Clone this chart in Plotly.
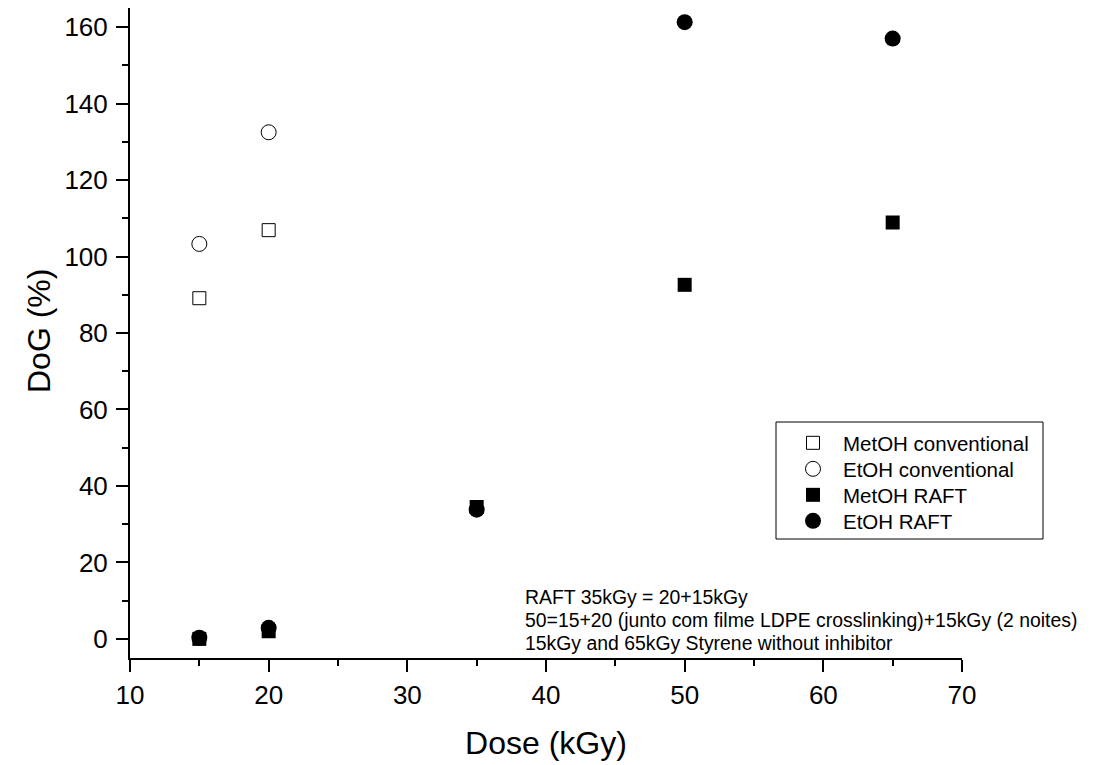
import plotly.graph_objects as go

# Data
metoh_conv_x = [15, 20]
metoh_conv_y = [89.1, 106.9]
etoh_conv_x = [15, 20]
etoh_conv_y = [103.3, 132.5]
metoh_raft_x = [15, 20, 35, 50, 65]
metoh_raft_y = [0.0, 2.0, 34.5, 92.6, 108.9]
etoh_raft_x = [15, 20, 35, 50, 65]
etoh_raft_y = [0.3, 2.9, 33.8, 161.3, 157.0]

series_names = ["MetOH conventional", "EtOH conventional", "MetOH RAFT", "EtOH RAFT"]

notes = [
    "RAFT 35kGy = 20+15kGy",
    "50=15+20 (junto com filme LDPE crosslinking)+15kGy (2 noites)",
    "15kGy and 65kGy Styrene without inhibitor",
]

FONT = "Liberation Sans, Arial, sans-serif"

# plot area in page pixels (page has an 8px body margin)
PL, PR, PT, PB = 130, 962, 8, 658
def px(x):
    return (x - PL) / (PR - PL)
def py(y):
    return (PB - y) / (PB - PT)

fig = go.Figure()
fig.add_trace(go.Scatter(x=metoh_conv_x, y=metoh_conv_y, mode="markers", name=series_names[0], legend="legend",
                         marker=dict(symbol="square-open", size=13, color="black", line=dict(width=1))))
fig.add_trace(go.Scatter(x=etoh_conv_x, y=etoh_conv_y, mode="markers", name=series_names[1], legend="legend2",
                         marker=dict(symbol="circle-open", size=15, color="black", line=dict(width=1))))
fig.add_trace(go.Scatter(x=metoh_raft_x, y=metoh_raft_y, mode="markers", name=series_names[2], legend="legend3",
                         marker=dict(symbol="square", size=14, color="black")))
fig.add_trace(go.Scatter(x=etoh_raft_x, y=etoh_raft_y, mode="markers", name=series_names[3], legend="legend4",
                         marker=dict(symbol="circle", size=16, color="black")))

for i, t in enumerate(notes):
    fig.add_annotation(text=t, xref="paper", yref="paper", x=px(523), y=py(597 + 23 * i),
                       xanchor="left", yanchor="middle", showarrow=False,
                       font=dict(family=FONT, size=19.4, color="black"))

# y-axis title
fig.add_annotation(text="DoG (%)", xref="paper", yref="paper", x=px(39), y=py(331),
                   xanchor="center", yanchor="middle", textangle=-90, showarrow=False,
                   font=dict(family=FONT, size=32, color="black"))

# legend frame
fig.add_shape(type="rect", xref="paper", yref="paper", x0=px(776), x1=px(1043), y0=py(539), y1=py(422),
              line=dict(color="black", width=1), fillcolor="rgba(0,0,0,0)", layer="above")

legend_common = dict(xanchor="left", yanchor="middle", bgcolor="rgba(0,0,0,0)", borderwidth=0,
                     font=dict(family=FONT, size=20.5, color="black"), itemsizing="trace", itemwidth=50)
rows = [443, 469, 495, 521]

fig.update_layout(
    width=1104, height=765,
    margin=dict(l=PL - 8, r=1112 - PR, t=PT - 8, b=773 - PB, pad=0),
    plot_bgcolor="white", paper_bgcolor="white",
    font=dict(family=FONT, color="black"),
    showlegend=True,
    legend=dict(x=px(783), y=py(rows[0]), **legend_common),
    legend2=dict(x=px(783), y=py(rows[1]), **legend_common),
    legend3=dict(x=px(783), y=py(rows[2]), **legend_common),
    legend4=dict(x=px(783), y=py(rows[3]), **legend_common),
    xaxis=dict(range=[10, 70], dtick=10, tick0=10, showgrid=False, zeroline=False,
               showline=True, linecolor="black", linewidth=2,
               ticks="outside", ticklen=12, tickwidth=2, tickcolor="black",
               tickfont=dict(family=FONT, size=26), ticklabelstandoff=1,
               minor=dict(dtick=5, ticks="outside", ticklen=6, tickwidth=2, tickcolor="black", showgrid=False),
               title=dict(text="Dose (kGy)", font=dict(family=FONT, size=32), standoff=22)),
    yaxis=dict(range=[-5, 165], dtick=20, tick0=0, showgrid=False, zeroline=False,
               showline=True, linecolor="black", linewidth=2,
               ticks="outside", ticklen=12, tickwidth=2, tickcolor="black",
               tickfont=dict(family=FONT, size=26), ticklabelstandoff=3,
               minor=dict(dtick=10, ticks="outside", ticklen=6, tickwidth=2, tickcolor="black", showgrid=False)),
)

fig.write_html("out.html")
